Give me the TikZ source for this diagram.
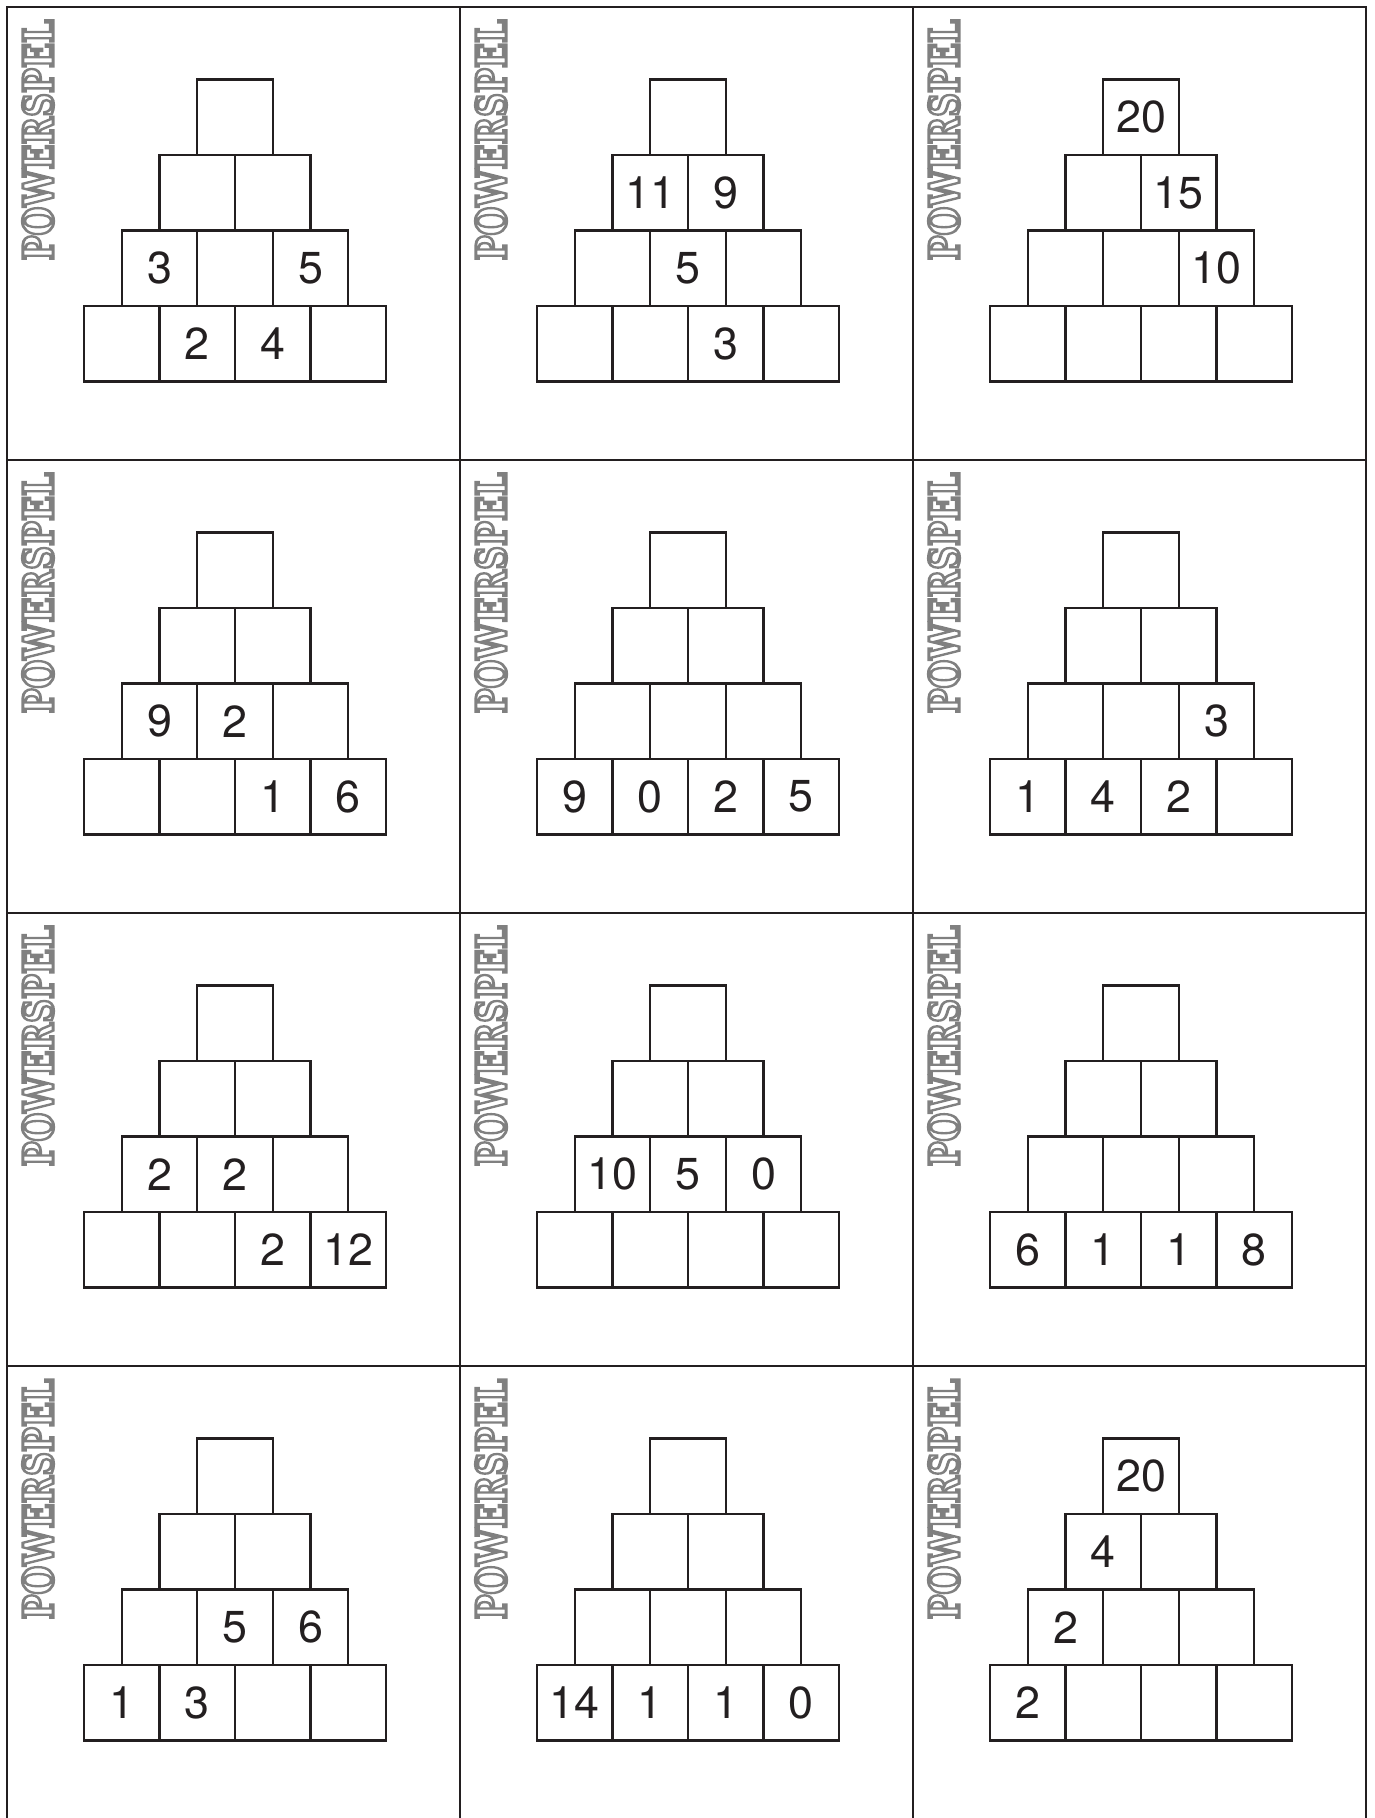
\documentclass[tikz,border=0pt]{standalone}
\usepackage{fontspec}
\setmainfont{TeX Gyre Heros}
\newfontfamily\brandfont{DejaVu Serif}
\usepackage{graphicx}
\definecolor{inkblack}{HTML}{231F20}
\definecolor{brandgray}{HTML}{8C8C8C}
\usetikzlibrary{positioning}

% outlined (stroke only) lettering for the card label
\newcommand{\brandtext}{%
  \resizebox{137pt}{17.5pt}{\brandfont\bfseries
    \special{pdf:literal direct 1 Tr 0.7 w 0.5 G}POWERSPEL\special{pdf:literal direct 0 Tr}}}

\begin{document}
\begin{tikzpicture}[
  x=0.02cm, y=-0.02cm,
  cardline/.style={draw=inkblack, line width=1.3pt},
  cellbox/.style={
    draw=inkblack, line width=1.3pt,
    minimum size=1.51cm, inner sep=0pt, outer sep=0pt,
  },
  numtext/.style={text=inkblack, font=\fontsize{25.5}{30}\selectfont, inner sep=0pt},
  brand/.style={rotate=90, inner sep=0pt},
]

% === PAGE ===
\useasboundingbox (0,0) rectangle (1375,1818);

% === CARD GRID (3 x 4, bottom edge runs off the page) ===
\draw[cardline] (7,1830) -- (7,7) -- (1366,7) -- (1366,1830);
\foreach \gx in {460,913} \draw[cardline] (\gx,7) -- (\gx,1830);
\foreach \gy in {460,913,1366} \draw[cardline] (7,\gy) -- (1366,\gy);

% === PYRAMIDS + LABELS ===
\foreach \cx in {0,1,2} {
  \foreach \cy in {0,1,2,3} {
    \pgfmathsetmacro{\ox}{7+453*\cx}
    \pgfmathsetmacro{\oy}{7+453*\cy}
    \node[brand] (lbl\cx\cy) at (\ox+31,\oy+133) {\brandtext};
    \foreach \r in {1,...,4} {
      \foreach \k in {1,...,\r} {
        \node[cellbox] (p\cx\cy-\r\k)
          at ({\ox+114.75+(4-\r)*37.75+(\k-1)*75.5}, {\oy+110.25+(\r-1)*75.5}) {};
      }
    }
  }
}

% === GIVEN NUMBERS (card / row+box / value) ===
\foreach \card/\pos/\val in {
  00/31/3, 00/33/5, 00/42/2, 00/43/4,
  10/21/11, 10/22/9, 10/32/5, 10/43/3,
  20/11/20, 20/22/15, 20/33/10,
  01/31/9, 01/32/2, 01/43/1, 01/44/6,
  11/41/9, 11/42/0, 11/43/2, 11/44/5,
  21/33/3, 21/41/1, 21/42/4, 21/43/2,
  02/31/2, 02/32/2, 02/43/2, 02/44/12,
  12/31/10, 12/32/5, 12/33/0,
  22/41/6, 22/42/1, 22/43/1, 22/44/8,
  03/32/5, 03/33/6, 03/41/1, 03/42/3,
  13/41/14, 13/42/1, 13/43/1, 13/44/0,
  23/11/20, 23/21/4, 23/31/2, 23/41/2}
  \node[numtext] at (p\card-\pos) {\val};

\end{tikzpicture}
\end{document}
